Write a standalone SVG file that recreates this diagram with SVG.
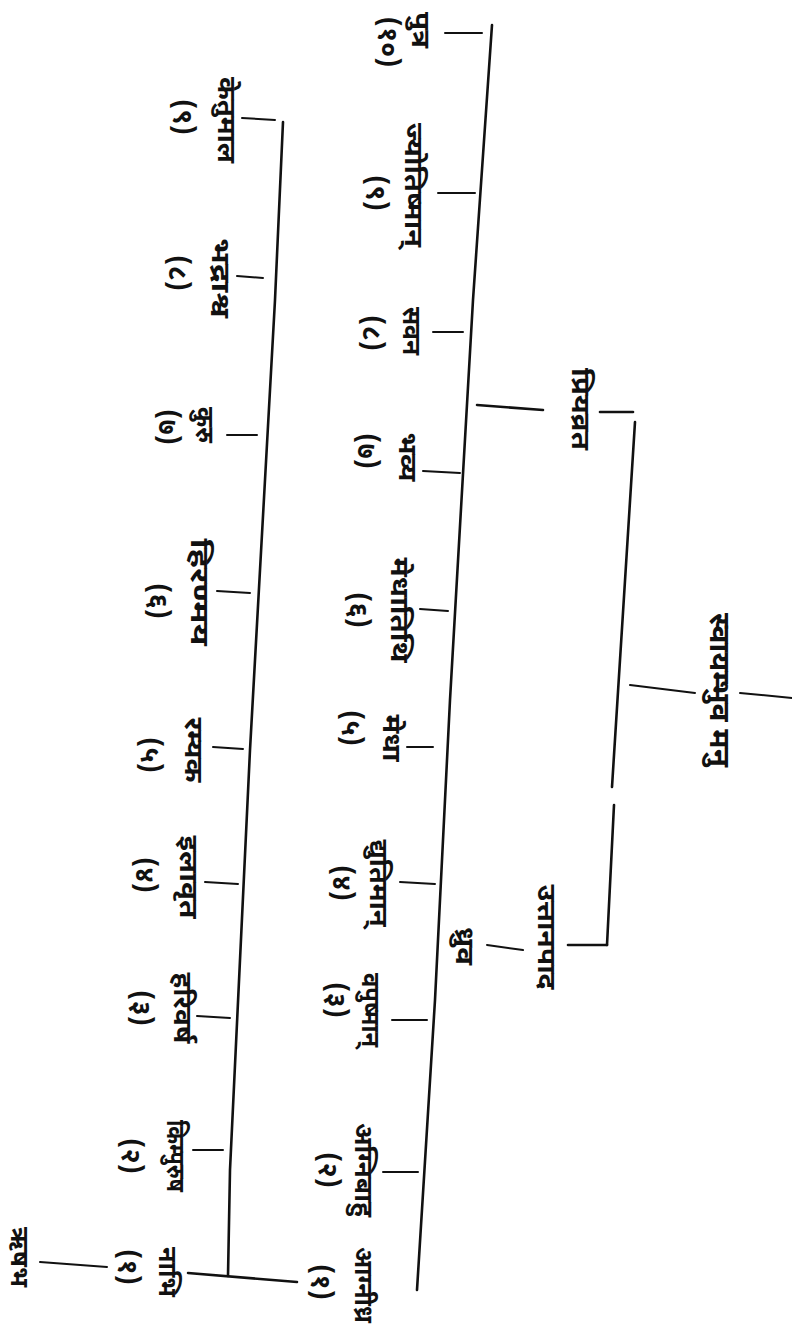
<svg xmlns="http://www.w3.org/2000/svg" width="792" height="1327" viewBox="0 0 792 1327">
<style>
.ln{stroke:#111;stroke-width:2.6;fill:none;stroke-linecap:round;stroke-linejoin:round}
.tk{stroke:#111;stroke-width:2;fill:none;stroke-linecap:round}
text{font-family:"Noto Sans Devanagari","Noto Sans","Lohit Devanagari","Liberation Sans",sans-serif;fill:#111;text-anchor:middle;dominant-baseline:central;font-weight:bold}
.nm{font-size:26px}
.no{font-size:27px}
.big{font-size:28px}
</style>
<rect width="792" height="1327" fill="#fff"/>
<g id="connectors">
<polyline class="ln" points="492,25 473,300 450,700 435,1000 417,1290"/>
<polyline class="ln" points="283,122 275,300 250,750 230,1170 228,1276"/>
<line class="ln" x1="188" y1="1273" x2="297" y2="1282"/>
<line class="tk" x1="40" y1="1262" x2="107" y2="1267"/>
<line class="ln" x1="635" y1="422" x2="612" y2="787"/>
<line class="ln" x1="614" y1="805" x2="607" y2="945"/>
<line class="ln" x1="600" y1="412" x2="633" y2="412"/>
<line class="ln" x1="568" y1="945" x2="607" y2="945"/>
<line class="ln" x1="477" y1="405" x2="543" y2="410"/>
<line class="tk" x1="487" y1="945" x2="523" y2="950"/>
<line class="tk" x1="630" y1="685" x2="695" y2="693"/>
<line class="tk" x1="740" y1="693" x2="792" y2="698"/>
<line class="tk" x1="445" y1="33" x2="482" y2="33"/>
<line class="tk" x1="438" y1="193" x2="475" y2="193"/>
<line class="tk" x1="433" y1="332" x2="463" y2="332"/>
<line class="tk" x1="423" y1="471" x2="460" y2="473"/>
<line class="tk" x1="420" y1="609" x2="448" y2="611"/>
<line class="tk" x1="407" y1="747" x2="433" y2="747"/>
<line class="tk" x1="400" y1="882" x2="435" y2="884"/>
<line class="tk" x1="392" y1="1020" x2="427" y2="1020"/>
<line class="tk" x1="383" y1="1172" x2="418" y2="1172"/>
<line class="tk" x1="242" y1="118" x2="275" y2="120"/>
<line class="tk" x1="237" y1="276" x2="263" y2="278"/>
<line class="tk" x1="227" y1="435" x2="257" y2="435"/>
<line class="tk" x1="217" y1="591" x2="250" y2="593"/>
<line class="tk" x1="213" y1="747" x2="243" y2="749"/>
<line class="tk" x1="205" y1="882" x2="238" y2="884"/>
<line class="tk" x1="197" y1="1016" x2="230" y2="1018"/>
<line class="tk" x1="193" y1="1150" x2="223" y2="1150"/>
</g>
<g id="manu"><text class="big" transform="translate(717,690) rotate(90)" textLength="154" lengthAdjust="spacingAndGlyphs">स्वायम्भुव मनु</text></g>
<g id="priyavrata"><text class="nm" transform="translate(578,409) rotate(90)" textLength="82" lengthAdjust="spacingAndGlyphs">प्रियव्रत</text></g>
<g id="uttanapada"><text class="nm" transform="translate(544,937) rotate(90)" textLength="105" lengthAdjust="spacingAndGlyphs">उत्तानपाद</text></g>
<g id="dhruva"><text class="nm" transform="translate(462,946) rotate(90)" textLength="38" lengthAdjust="spacingAndGlyphs">ध्रुव</text></g>
<g id="putra"><text class="nm" transform="translate(418,30) rotate(90)" textLength="36" lengthAdjust="spacingAndGlyphs">पुत्र</text><text class="no" transform="translate(385,42) rotate(90)">(१०)</text></g>
<g id="jyotishman"><text class="nm" transform="translate(411,185) rotate(90)" textLength="124" lengthAdjust="spacingAndGlyphs">ज्योतिष्मान्</text><text class="no" transform="translate(373,193) rotate(90)">(९)</text></g>
<g id="savana"><text class="nm" transform="translate(409,331) rotate(90)" textLength="48" lengthAdjust="spacingAndGlyphs">सवन</text><text class="no" transform="translate(369,333) rotate(90)">(८)</text></g>
<g id="bhavya"><text class="nm" transform="translate(405,457) rotate(90)" textLength="49" lengthAdjust="spacingAndGlyphs">भव्य</text><text class="no" transform="translate(364,451) rotate(90)">(७)</text></g>
<g id="medhatithi"><text class="nm" transform="translate(397,610) rotate(90)" textLength="105" lengthAdjust="spacingAndGlyphs">मेधातिथि</text><text class="no" transform="translate(355,610) rotate(90)">(६)</text></g>
<g id="medha"><text class="nm" transform="translate(389,738) rotate(90)" textLength="47" lengthAdjust="spacingAndGlyphs">मेधा</text><text class="no" transform="translate(348,728) rotate(90)">(५)</text></g>
<g id="dyutiman"><text class="nm" transform="translate(376,883) rotate(90)" textLength="87" lengthAdjust="spacingAndGlyphs">द्युतिमान्</text><text class="no" transform="translate(339,883) rotate(90)">(४)</text></g>
<g id="vapushman"><text class="nm" transform="translate(368,1010) rotate(90)" textLength="74" lengthAdjust="spacingAndGlyphs">वपुष्मान्</text><text class="no" transform="translate(333,1000) rotate(90)">(३)</text></g>
<g id="agnibahu"><text class="nm" transform="translate(361,1170) rotate(90)" textLength="94" lengthAdjust="spacingAndGlyphs">अग्निबाहु</text><text class="no" transform="translate(325,1170) rotate(90)">(२)</text></g>
<g id="agnidhra"><text class="nm" transform="translate(361,1285) rotate(90)" textLength="76" lengthAdjust="spacingAndGlyphs">आग्नीध्र</text><text class="no" transform="translate(318,1282) rotate(90)">(१)</text></g>
<g id="ketumala"><text class="nm" transform="translate(224,120) rotate(90)" textLength="86" lengthAdjust="spacingAndGlyphs">केतुमाल</text><text class="no" transform="translate(180,117) rotate(90)">(९)</text></g>
<g id="bhadrashva"><text class="nm" transform="translate(218,278) rotate(90)" textLength="80" lengthAdjust="spacingAndGlyphs">भद्राश्व</text><text class="no" transform="translate(175,273) rotate(90)">(८)</text></g>
<g id="kuru"><text class="nm" transform="translate(202,425) rotate(90)" textLength="36" lengthAdjust="spacingAndGlyphs">कुरु</text><text class="no" transform="translate(165,427) rotate(90)">(७)</text></g>
<g id="hiranmaya"><text class="nm" transform="translate(197,592) rotate(90)" textLength="107" lengthAdjust="spacingAndGlyphs">हिरण्मय</text><text class="no" transform="translate(155,601) rotate(90)">(६)</text></g>
<g id="ramyaka"><text class="nm" transform="translate(191,750) rotate(90)" textLength="65" lengthAdjust="spacingAndGlyphs">रम्यक</text><text class="no" transform="translate(147,755) rotate(90)">(५)</text></g>
<g id="ilavrita"><text class="nm" transform="translate(186,877) rotate(90)" textLength="83" lengthAdjust="spacingAndGlyphs">इलावृत</text><text class="no" transform="translate(142,875) rotate(90)">(४)</text></g>
<g id="harivarsha"><text class="nm" transform="translate(180,1008) rotate(90)" textLength="71" lengthAdjust="spacingAndGlyphs">हरिवर्ष</text><text class="no" transform="translate(138,1008) rotate(90)">(३)</text></g>
<g id="kimpurusha"><text class="nm" transform="translate(173,1156) rotate(90)" textLength="72" lengthAdjust="spacingAndGlyphs">किम्पुरुष</text><text class="no" transform="translate(128,1156) rotate(90)">(२)</text></g>
<g id="nabhi"><text class="nm" transform="translate(165,1272) rotate(90)" textLength="50" lengthAdjust="spacingAndGlyphs">नाभि</text><text class="no" transform="translate(125,1267) rotate(90)">(१)</text></g>
<g id="rishabha"><text class="nm" transform="translate(17,1257) rotate(90)" textLength="60" lengthAdjust="spacingAndGlyphs">ऋषभ</text></g>
</svg>
